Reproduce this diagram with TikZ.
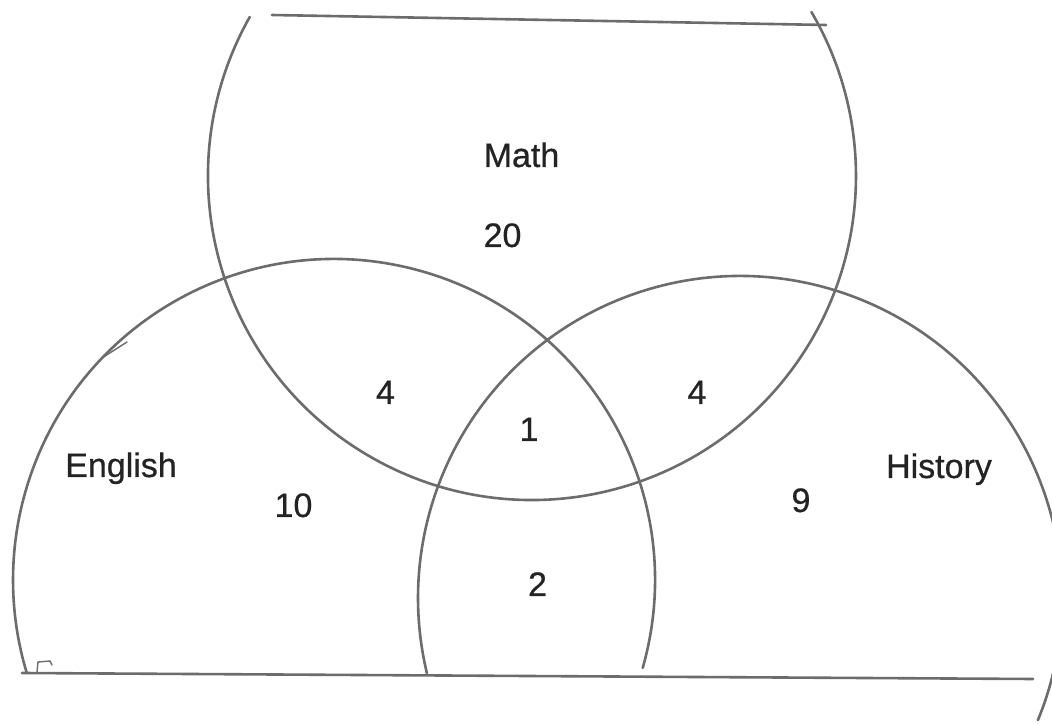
\documentclass[tikz,border=0pt]{standalone}
\usepackage{fontspec}
\setmainfont{Liberation Sans}
\newfontfamily\labelfont[FakeBold=0.6]{Liberation Sans}
\definecolor{pencil}{RGB}{108,108,108}
\definecolor{ink}{RGB}{35,35,35}
\begin{document}
\begin{tikzpicture}[x=1pt,y=1pt,
  stroke/.style={draw=pencil,line width=2.6pt,line cap=round},
  thinstroke/.style={draw=pencil,line width=1.4pt,line cap=round},
  lbl/.style={text=ink,font=\labelfont\fontsize{34}{40}\selectfont,anchor=base,inner sep=0pt}]
\useasboundingbox (0,0) rectangle (1052,723);
\fill[white] (0,0) rectangle (1052,723);
% circle centres
\coordinate (cM) at (532,547);
\coordinate (cE) at (334,143);
\coordinate (cH) at (740,125);
% Math circle, cut at the top
\draw[stroke] (cM) ++(150.6:324pt) arc[start angle=150.6,end angle=390.4,radius=324pt];
% English circle, cut at the bottom
\draw[stroke] (cE) ++(-15.9:321pt) arc[start angle=-15.9,end angle=196.7,radius=321pt];
% History circle, cut at the bottom
\draw[stroke] (cH) ++(-22.3:322pt) arc[start angle=-22.3,end angle=193.5,radius=322pt];
% straight cut lines
\coordinate (tl) at (272,708);
\coordinate (tr) at (826,698);
\coordinate (bl) at (22,50);
\coordinate (br) at (1033,44);
\draw[stroke] (tl) -- (tr);
\draw[stroke] (bl) -- (br);
% small pencil marks
\coordinate (h1) at (37,51);
\coordinate (h2) at (38,61);
\coordinate (h3) at (50,62);
\coordinate (h4) at (52,58);
\draw[thinstroke] (h1) -- (h2) -- (h3) -- (h4);
\coordinate (d1) at (102,365);
\coordinate (d2) at (127,381);
\draw[thinstroke] (d1) -- (d2);
% labels
\node[lbl] (math) at (521.5,556) {Math};
\node[lbl] (n20) at (502.5,476) {20};
\node[lbl] (english) at (121,246) {English};
\node[lbl] (n10) at (293.5,206) {10};
\node[lbl] (history) at (939,245) {History};
\node[lbl] (n4a) at (385.5,319) {4};
\node[lbl] (n1) at (529,282) {1};
\node[lbl] (n4b) at (697,319) {4};
\node[lbl] (n9) at (801,211) {9};
\node[lbl] (n2) at (537.5,127) {2};
\end{tikzpicture}
\end{document}
